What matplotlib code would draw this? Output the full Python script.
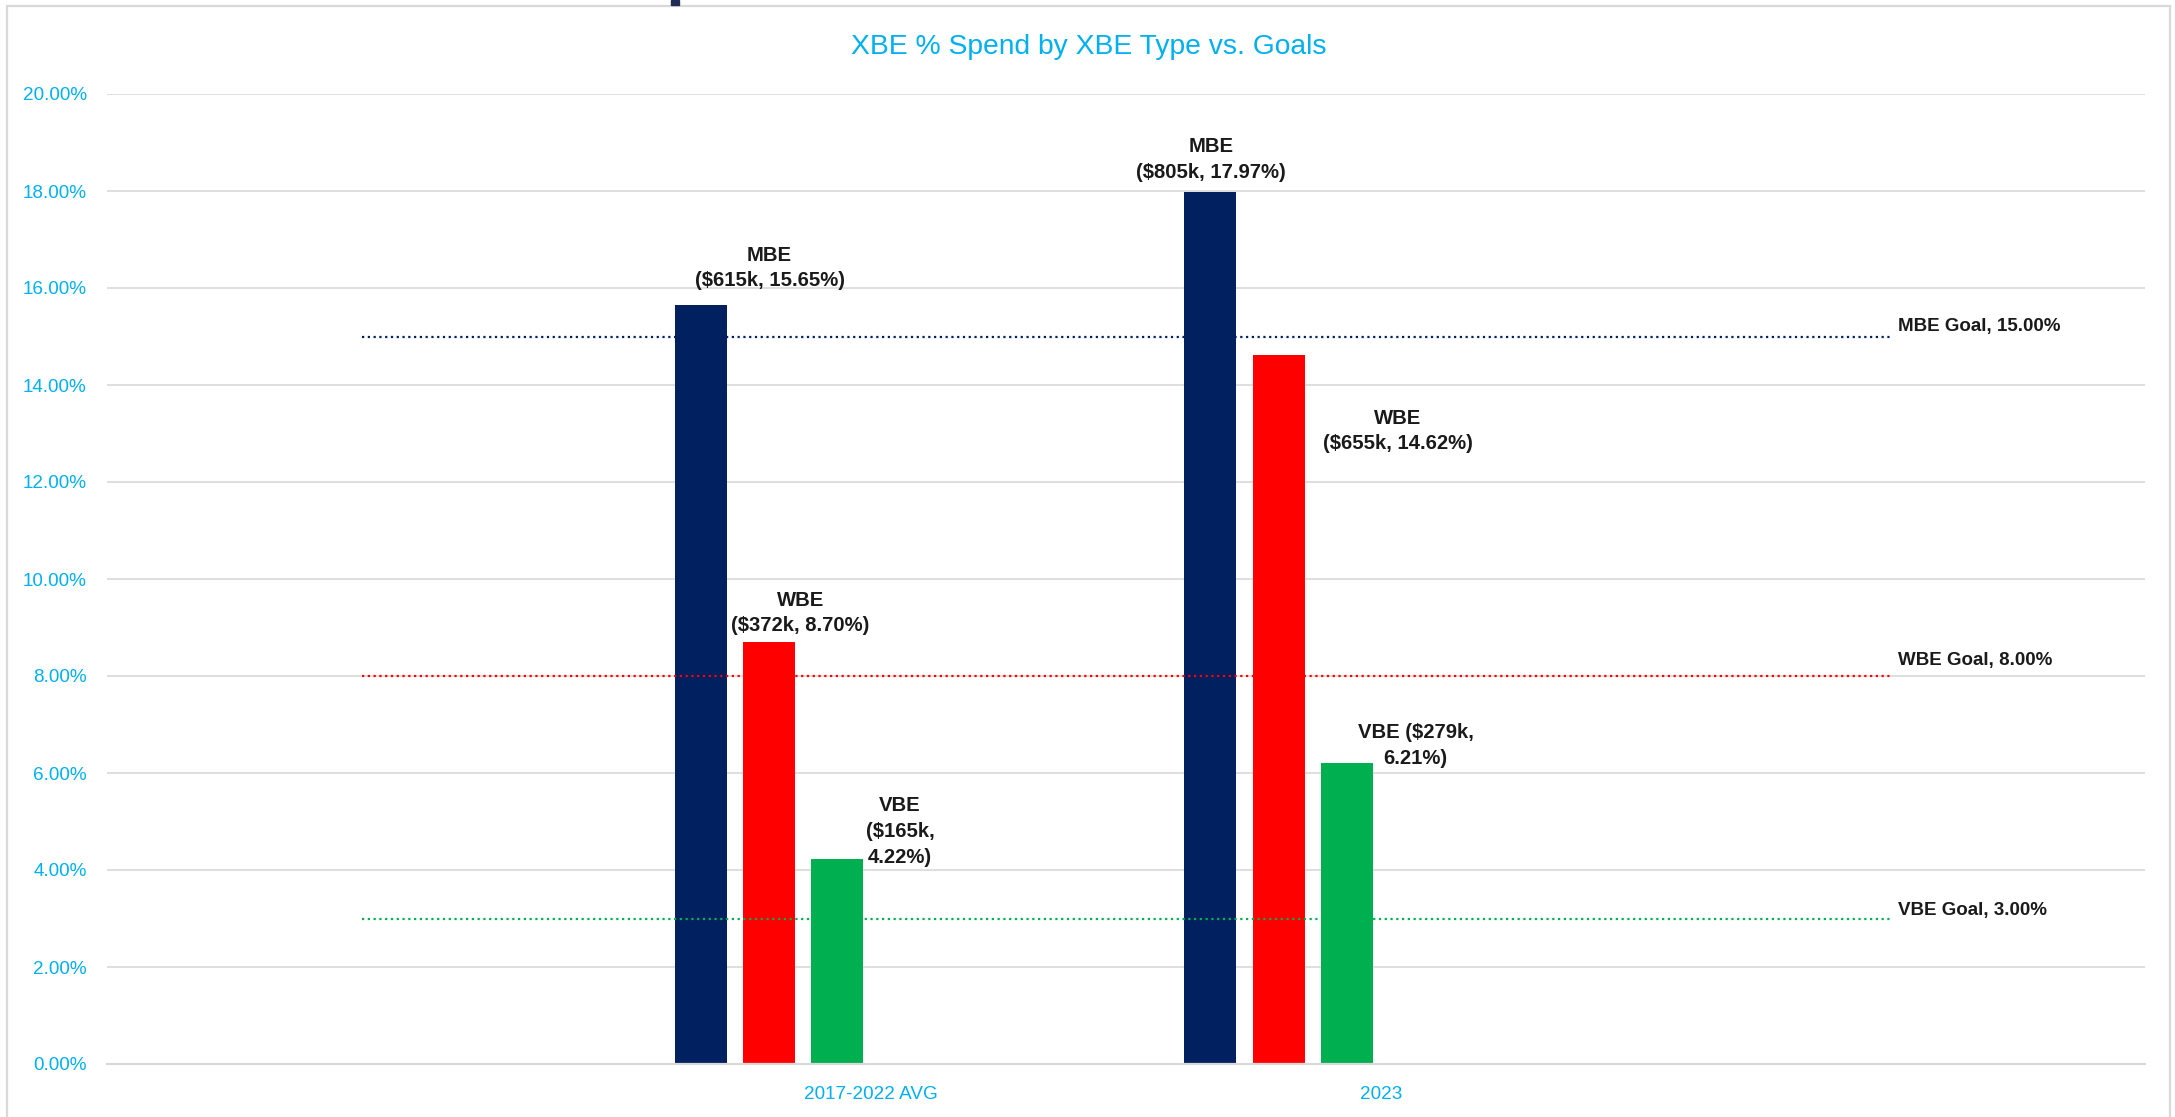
import matplotlib
matplotlib.use("Agg")
import matplotlib.pyplot as plt
from matplotlib.patches import Rectangle
from matplotlib.ticker import FuncFormatter

# categories on the x axis (outer two are empty, they only carry the goal lines)
categories = ["", "2017-2022 AVG", "2023", ""]
period_idx = [1, 2]

# XBE types and their values per period
xbe_types = ["MBE", "WBE", "VBE"]
mbe_pct = [15.65, 17.97]
wbe_pct = [8.70, 14.62]
vbe_pct = [4.22, 6.21]
mbe_spend = [615, 805]
wbe_spend = [372, 655]
vbe_spend = [165, 279]

# goals (%), drawn across all four categories
goal_pct = [15.00, 8.00, 3.00]

y_ticks = [0, 2, 4, 6, 8, 10, 12, 14, 16, 18, 20]

# styling
colors = ["#002060", "#FF0000", "#00B050"]
accent = "#00B0F0"
grid_col = "#D9D9D9"
font = ["Liberation Sans", "DejaVu Sans"]
bar_offsets = [-0.335, -0.200, -0.067]
bar_width = 0.102

# label layout per bar: (line break style, dx px, dy px) for [period][type]
label_layout = [
    [("two", 69, 37), ("two", 31, 29), ("three", 63, 28)],
    [("two", 1, 33), ("two", 119, -76), ("wrap", 69, 17)],
]
goal_label_dy = [10, 16, 8]


def make_label(name, spend, pct, style):
    if style == "three":
        return f"{name}\n(${spend}k,\n{pct:.2f}%)"
    if style == "wrap":
        return f"{name} (${spend}k,\n{pct:.2f}%)"
    return f"{name}\n(${spend}k, {pct:.2f}%)"


def main():
    plt.rcParams['font.family'] = font
    fig = plt.figure(figsize=(21.75, 11.17), dpi=100)
    ax = fig.add_axes([107 / 2175, 1 - 1064 / 1117, 2038 / 2175, 970 / 1117])

    pct_series = [mbe_pct, wbe_pct, vbe_pct]
    spend_series = [mbe_spend, wbe_spend, vbe_spend]

    for t, name in enumerate(xbe_types):
        xs = [p + bar_offsets[t] for p in period_idx]
        ax.bar(xs, pct_series[t], width=bar_width, color=colors[t], zorder=2)
        for i, x in enumerate(xs):
            style, dx, dy = label_layout[i][t]
            ax.annotate(make_label(name, spend_series[t][i], pct_series[t][i], style),
                        xy=(x, pct_series[t][i]), xytext=(dx, dy),
                        textcoords="offset pixels", ha="center", va="center",
                        fontsize=14.6, fontweight="bold", color="#1a1a1a",
                        linespacing=1.45, zorder=4)

    # goal lines across all categories
    xs_all = list(range(len(categories)))
    for t, name in enumerate(xbe_types):
        ax.plot(xs_all, [goal_pct[t]] * len(xs_all), color=colors[t], lw=1.6,
                linestyle=(0, (1, 1.6)), zorder=3)
        ax.annotate(f"{name} Goal, {goal_pct[t]:.2f}%", xy=(xs_all[-1], goal_pct[t]),
                    xytext=(8, goal_label_dy[t]), textcoords="offset pixels",
                    ha="left", va="center", fontsize=13.5, fontweight="bold",
                    color="#1a1a1a", zorder=4)

    ax.set_xlim(-0.5, len(categories) - 0.5)
    ax.set_ylim(0, 20)
    ax.set_xticks(xs_all)
    ax.set_xticklabels(categories)
    ax.set_yticks(y_ticks)
    ax.yaxis.set_major_formatter(FuncFormatter(lambda v, _: f"{v:.2f}%"))
    ax.tick_params(axis="both", length=0, colors=accent, labelsize=13.6)
    ax.tick_params(axis="y", pad=14.5)
    ax.tick_params(axis="x", pad=16)
    ax.grid(axis="y", color=grid_col, lw=1.2, zorder=0)
    ax.set_axisbelow(True)
    for side in ["top", "right", "left"]:
        ax.spines[side].set_visible(False)
    ax.spines["bottom"].set_color(grid_col)
    ax.spines["bottom"].set_linewidth(1.6)

    fig.text(1089 / 2175, 1 - 47 / 1117, "XBE % Spend by XBE Type vs. Goals",
             ha="center", va="center", fontsize=20.3, color=accent)

    # chart frame and the small dark fragment above it
    fig.patches.append(Rectangle((7 / 2175, -0.05), 2163 / 2175, 1.05 - 6 / 1117,
                                 transform=fig.transFigure, fill=False,
                                 edgecolor=grid_col, lw=1.6))
    fig.patches.append(Rectangle((671 / 2175, 1 - 5 / 1117), 8 / 2175, 5 / 1117,
                                 transform=fig.transFigure, color="#1F2D55"))

    fig.savefig("out.png", dpi=100)


if __name__ == "__main__":
    main()
